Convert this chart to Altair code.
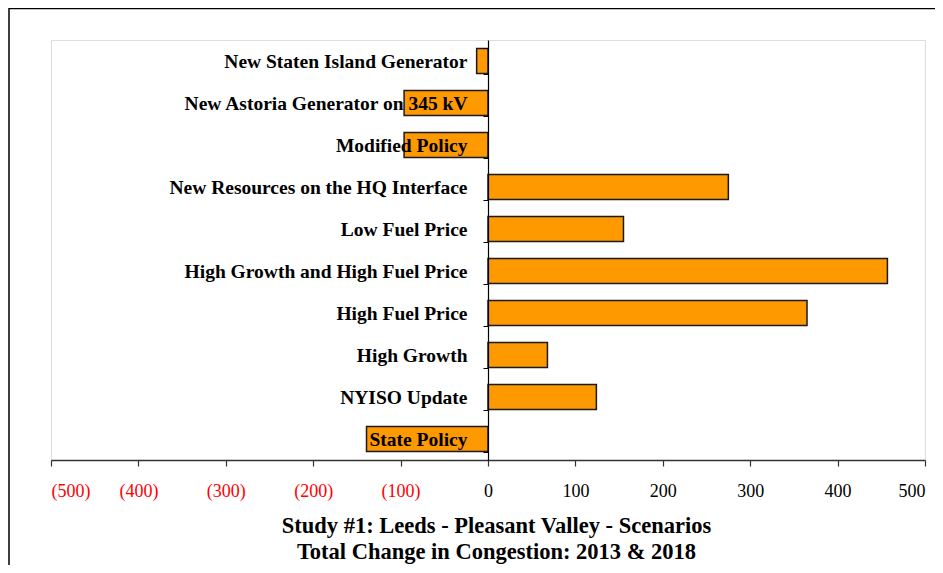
import altair as alt
import pandas as pd

categories = [
    "New Staten Island Generator",
    "New Astoria Generator on 345 kV",
    "Modified Policy",
    "New Resources on the HQ Interface",
    "Low Fuel Price",
    "High Growth and High Fuel Price",
    "High Fuel Price",
    "High Growth",
    "NYISO Update",
    "State Policy",
]
values = [-13, -96, -96, 275, 155, 457, 365, 68, 124, -139]
x_ticks = [-500, -400, -300, -200, -100, 0, 100, 200, 300, 400, 500]
title_lines = [
    "Study #1: Leeds - Pleasant Valley - Scenarios",
    "Total Change in Congestion: 2013 & 2018",
]

df = pd.DataFrame({"scenario": categories, "value": values})

FONT = "Liberation Serif"
W, H = 874, 420

x_scale = alt.Scale(domain=[-500, 500], nice=False, zero=False)
y_scale = alt.Scale(paddingInner=0.4, paddingOuter=0.2)

bars = alt.Chart(df).mark_bar(
    color="#FF9900", stroke="#1a1a1a", strokeWidth=1.5
).encode(
    x=alt.X(
        "value:Q",
        scale=x_scale,
        title=None,
        axis=alt.Axis(
            values=x_ticks,
            grid=False,
            domainColor="#333333",
            domainWidth=1.5,
            tickColor="#333333",
            tickSize=6,
            tickWidth=1.2,
            labelFont=FONT,
            labelFontSize=18,
            labelPadding=16,
            labelColor={"condition": {"test": "datum.value < 0", "value": "#FF0000"}, "value": "#000000"},
            labelExpr="datum.value < 0 ? '(' + format(-datum.value, 'd') + ')' : format(datum.value, 'd')",
        ),
    ),
    y=alt.Y(
        "scenario:N",
        sort=categories,
        scale=y_scale,
        title=None,
        axis=alt.Axis(
            offset=-437,
            zindex=1,
            domainColor="#000000",
            domainWidth=1.2,
            tickColor="#000000",
            tickSize=5,
            tickWidth=1,
            tickBand="extent",
            labelFont=FONT,
            labelFontSize=19.5,
            labelFontWeight="bold",
            labelColor="#000000",
            labelPadding=16,
            labelLimit=0,
        ),
    ),
)

frame = alt.Chart(pd.DataFrame({"k": [0]})).mark_rect(
    fillOpacity=0, stroke="#000000", strokeWidth=1.5
).encode(
    x=alt.value(-42),
    x2=alt.value(W + 60),
    y=alt.value(-31.5),
    y2=alt.value(H + 160),
)

one = pd.DataFrame({"k": [0]})
title1 = alt.Chart(one).mark_text(
    text=title_lines[0], font=FONT, fontSize=22.5, fontWeight="bold",
    color="#000000", align="center", baseline="alphabetic",
).encode(x=alt.value(445.5), y=alt.value(493))
title2 = alt.Chart(one).mark_text(
    text=title_lines[1], font=FONT, fontSize=22.5, fontWeight="bold",
    color="#000000", align="center", baseline="alphabetic",
).encode(x=alt.value(445.5), y=alt.value(519))

chart = alt.layer(frame, bars, title1, title2).properties(
    width=W,
    height=H,
    autosize=alt.AutoSizeParams(type="none"),
    padding={"left": 43, "top": 32, "right": 10, "bottom": 105},
).configure_view(
    stroke="#999999", strokeWidth=1.5
).configure(background="white")

chart.save("out.html", embed_options={"renderer": "svg", "actions": False})
